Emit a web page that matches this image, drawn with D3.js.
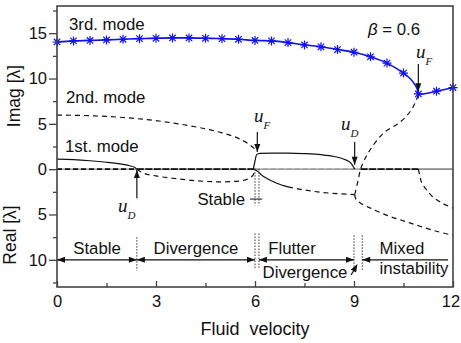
<!DOCTYPE html>
<html>
<head>
<meta charset="utf-8">
<script src="https://cdn.jsdelivr.net/npm/d3@7"></script>
<style>
  body { margin: 0; background: #fff; }
  svg text { font-family: "Liberation Sans", Arial, sans-serif; fill: #111; }
  .ital { font-family: "Liberation Serif", "Times New Roman", serif; font-style: italic; }
</style>
</head>
<body>
<svg id="chart" width="461" height="343"></svg>
<script>
// Imag part plotted upward, Real part plotted downward (stored as negative numbers)

// tick labels
var xTicks = [0, 3, 6, 9, 12];
var yTicks = [-10, -5, 0, 5, 10, 15];
var xMinor = [1.5, 4.5, 7.5, 10.5];
var yMinor = [-12.5, -7.5, -2.5, 2.5, 7.5, 12.5, 17.5];

// 3rd mode (blue, asterisks)
var mode3U = [0, 0.5, 1, 1.5, 2, 2.5, 3, 3.5, 4, 4.5, 5, 5.5, 6, 6.5, 7, 7.5, 8, 8.5, 9, 9.5, 10, 10.5, 10.95, 11.5, 12];
var mode3Imag = [14.03, 14.15, 14.2, 14.26, 14.33, 14.4, 14.44, 14.48, 14.48, 14.44, 14.4, 14.33, 14.2, 14.15, 13.96, 13.7, 13.5, 13.2, 12.9, 12.4, 11.7, 10.6, 8.3, 8.6, 9.0];
// extra points along the bend (line only)
var bendU = [10.7, 10.85, 10.92];
var bendImag = [10.0, 9.3, 8.8];

// 1st mode imag (solid)
var mode1U = [0, 0.5, 1, 1.5, 2, 2.2, 2.35, 2.42];
var mode1Imag = [1.1, 1.05, 0.93, 0.76, 0.52, 0.38, 0.2, 0];

// 2nd mode imag (dashed)
var mode2U = [0, 1, 2, 3, 4, 5, 5.5, 5.8, 6.07];
var mode2Imag = [5.96, 5.9, 5.7, 5.35, 4.8, 4.0, 3.4, 2.8, 2.0];

// divergence real part (dashed)
var divU = [2.42, 2.6, 3, 3.5, 4, 4.5, 5, 5.5, 5.8, 5.95, 6.0];
var divReal = [0, -0.4, -0.75, -1.0, -1.2, -1.35, -1.4, -1.32, -1.05, -0.6, 0];

// flutter imag (solid)
var flutU = [5.95, 6.0, 6.05, 6.15, 6.5, 7, 7.5, 8, 8.4, 8.7, 8.9, 9.02];
var flutImag = [0, 0.9, 1.6, 1.75, 1.78, 1.78, 1.72, 1.6, 1.4, 1.1, 0.7, 0];

// flutter real (solid part, then dashed part)
var flutRealU = [5.98, 6.1, 6.2, 6.35, 6.66, 7.0];
var flutReal = [0, -0.3, -0.66, -1.0, -1.55, -1.95];
var flutReal2U = [7.0, 7.5, 8, 8.5, 9.02];
var flutReal2 = [-1.95, -2.3, -2.55, -2.7, -2.8];

// branch from real back to imag after u = 9 (dashed)
var riseU = [9.02, 9.05, 9.12, 9.2, 9.3, 9.5, 9.9, 10.4, 10.75, 10.95];
var riseVal = [-2.8, -2.4, -1.3, 0, 0.9, 2.2, 4.0, 5.2, 6.6, 8.2];

// lower real branch after u = 9 (dashed)
var fallU = [9.02, 9.06, 9.2, 9.5, 10, 10.5, 11, 11.5, 12];
var fallReal = [-2.8, -3.3, -3.75, -4.3, -5.1, -5.7, -6.3, -6.85, -7.3];

// mixed instability real branch (dashed)
var mixU = [10.95, 11.0, 11.05, 11.2, 11.4, 11.7, 12];
var mixReal = [0, -0.8, -1.5, -2.3, -3.1, -3.8, -4.3];

// zero-line pieces
var zeroStart = [0, 2.42, 6.0, 9.2, 10.95];
var zeroEnd = [2.42, 6.0, 9.2, 10.95, 12];

// region boundaries on the bottom
var bounds = [2.42, 6.0, 6.12, 9.0, 9.25];

var svg = d3.select("#chart");
var x = d3.scaleLinear([0, 12], [57, 453]);
var y = d3.scaleLinear([-13, 18], [287, 6]);

function pts(us, vs) { return us.map(function (u, i) { return [u, vs[i]]; }); }
var line = d3.line().x(function (d) { return x(d[0]); }).y(function (d) { return y(d[1]); }).curve(d3.curveMonotoneX);
var lineC = d3.line().x(function (d) { return x(d[0]); }).y(function (d) { return y(d[1]); }).curve(d3.curveCatmullRom);

var ink = "#111";

// zero line
svg.append("line").attr("x1", x(0)).attr("x2", x(12)).attr("y1", y(0)).attr("y2", y(0))
  .attr("stroke", "#888").attr("stroke-width", 1.2);
zeroStart.forEach(function (s, i) {
  var st = [["#111", "5,3", 1.6], ["#111", "7,1.5", 1.6], ["#999", "5,3", 1.2], ["#111", "7,1.5", 1.8], ["#888", null, 1.2]][i];
  svg.append("line").attr("x1", x(s)).attr("x2", x(zeroEnd[i])).attr("y1", y(0)).attr("y2", y(0))
    .attr("stroke", st[0]).attr("stroke-width", st[2]).attr("stroke-dasharray", st[1]);
});

function curve(data, dashed, gen) {
  svg.append("path").datum(data).attr("d", (gen || line))
    .attr("fill", "none").attr("stroke", ink).attr("stroke-width", 1.2)
    .attr("stroke-dasharray", dashed ? "5,4" : null);
}
curve(pts(mode1U, mode1Imag), false);
curve(pts(mode2U, mode2Imag), true);
curve(pts(divU, divReal), true);
curve(pts(flutU, flutImag), false);
curve(pts(flutRealU, flutReal), false);
curve(pts(flutReal2U, flutReal2), true);
curve(pts(riseU, riseVal), true, lineC);
curve(pts(fallU, fallReal), true, lineC);
curve(pts(mixU, mixReal), true, lineC);

// 3rd mode blue
var m3line = pts(mode3U, mode3Imag).concat(pts(bendU, bendImag)).sort(function (a, b) { return a[0] - b[0]; });
svg.append("path").datum(m3line).attr("d", lineC)
  .attr("fill", "none").attr("stroke", "#1010f0").attr("stroke-width", 1.6);
svg.selectAll(".star").data(pts(mode3U, mode3Imag)).enter().append("path")
  .attr("class", "star")
  .attr("transform", function (d) { return "translate(" + x(d[0]) + "," + y(d[1]) + ")"; })
  .attr("d", "M-4.5,0L4.5,0M0,-4.5L0,4.5M-3.2,-3.2L3.2,3.2M-3.2,3.2L3.2,-3.2")
  .attr("stroke", "#1010f0").attr("stroke-width", 1.2);

// axes
var yAxis = d3.axisLeft(y).tickValues(yTicks).tickFormat(function (d) { return Math.abs(d); }).tickSize(8).tickPadding(2);
svg.append("g").attr("transform", "translate(57,0)").call(yAxis);
svg.append("g").attr("transform", "translate(57,0)")
  .call(d3.axisLeft(y).tickValues(yMinor).tickFormat("").tickSize(4));
var gx = svg.append("g").attr("transform", "translate(0,287)")
  .call(d3.axisBottom(x).tickValues(xTicks).tickSizeInner(-6).tickSizeOuter(0).tickPadding(8));
svg.append("g").attr("transform", "translate(0,287)")
  .call(d3.axisBottom(x).tickValues(xMinor).tickFormat("").tickSizeInner(-4).tickSizeOuter(0));
svg.selectAll(".domain").remove();
svg.selectAll(".tick line").attr("stroke", "#444").attr("stroke-width", 1.3);
svg.selectAll(".tick text").attr("font-size", 16.5).attr("fill", "#111")
  .style("font-family", "'Liberation Sans', Arial, sans-serif");
// keep the last x label inside the window
gx.selectAll(".tick text").filter(function (d) { return d === 12; }).attr("x", -2.5);

svg.append("rect").attr("x", 57).attr("y", 6).attr("width", 396).attr("height", 281)
  .attr("fill", "none").attr("stroke", "#444").attr("stroke-width", 1.6);

// axis titles
svg.append("text").attr("transform", "translate(20,96) rotate(-90)").attr("text-anchor", "middle")
  .attr("font-size", 17.5).text("Imag [λ]");
svg.append("text").attr("transform", "translate(16,235) rotate(-90)").attr("text-anchor", "middle")
  .attr("font-size", 17.5).text("Real [λ]");
svg.append("text").attr("x", 255).attr("y", 335).attr("text-anchor", "middle")
  .attr("font-size", 18).style("white-space", "pre").text("Fluid  velocity");

// mode labels
function label(tx, px, py, anchor, size) {
  svg.append("text").attr("x", px).attr("y", py).attr("text-anchor", anchor || "start")
    .attr("font-size", size || 16.8).text(tx);
}
label("3rd. mode", 69, 30);
label("2nd. mode", 66, 103);
label("1st. mode", 65, 152);
var beta = svg.append("text").attr("x", 368).attr("y", 35).attr("font-size", 16.8);
beta.append("tspan").attr("font-style", "italic").text("β");
beta.append("tspan").text(" = 0.6");

// arrow heads
function head(px, py, dir) {
  var s = dir === "up" ? "M0,0L-3,8L3,8Z" : dir === "down" ? "M0,0L-3,-8L3,-8Z" :
          dir === "left" ? "M0,0L8,-3L8,3Z" : "M0,0L-8,-3L-8,3Z";
  svg.append("path").attr("transform", "translate(" + px + "," + py + ")").attr("d", s).attr("fill", ink);
}
function vArrow(u, v0, v1) {
  svg.append("line").attr("x1", x(u)).attr("x2", x(u)).attr("y1", y(v0)).attr("y2", y(v1))
    .attr("stroke", ink).attr("stroke-width", 1.2);
  head(x(u), y(v1), v1 > v0 ? "up" : "down");
}
function uLabel(sub, px, py) {
  var t = svg.append("text").attr("x", px).attr("y", py).attr("class", "ital").attr("font-size", 19);
  t.append("tspan").text("u");
  t.append("tspan").attr("font-size", 11).attr("dy", 7).text(sub);
}
vArrow(2.42, -3.2, -0.1);
uLabel("D", 118, 212);
vArrow(6.07, 4.1, 1.9);
uLabel("F", 254, 122);
vArrow(9.02, 3.0, 0.5);
uLabel("D", 341, 130);
vArrow(10.95, 11.6, 8.6);
uLabel("F", 416, 58);

// dotted boundaries
function dotted(u, v0, v1) {
  svg.append("line").attr("x1", x(u)).attr("x2", x(u)).attr("y1", y(v0)).attr("y2", y(v1))
    .attr("stroke", "#333").attr("stroke-width", 1).attr("stroke-dasharray", "1.5,1.5");
}
dotted(bounds[0], -7.5, -11.2);
dotted(bounds[1], -7.1, -10.9);
dotted(bounds[2], -7.1, -10.9);
dotted(bounds[3], -7.3, -11.1);
dotted(bounds[4], -7.3, -11.1);
dotted(bounds[1], 0, -4.0);
dotted(bounds[2], 0, -4.0);
svg.append("line").attr("x1", x(5.85)).attr("x2", x(6.22)).attr("y1", y(-3.3)).attr("y2", y(-3.3))
  .attr("stroke", ink).attr("stroke-width", 1);
label("Stable", 245, 205, "end");

// region arrows along Real = 10
var yr = y(-10);
function hLine(u0, u1, left, right) {
  svg.append("line").attr("x1", x(u0)).attr("x2", x(u1)).attr("y1", yr).attr("y2", yr)
    .attr("stroke", ink).attr("stroke-width", 1.2);
  if (left) head(x(u0), yr, "left");
  if (right) head(x(u1), yr, "right");
}
hLine(0, bounds[0], true, true);
hLine(bounds[0], bounds[1], true, true);
hLine(bounds[2], bounds[3], true, true);
hLine(bounds[4], 11.85, true, false);

svg.append("line").attr("x1", 351).attr("x2", 356).attr("y1", 275).attr("y2", 267)
  .attr("stroke", ink).attr("stroke-width", 1.2);
svg.append("path").attr("transform", "translate(357.5,264) rotate(30)").attr("d", "M0,0L-3,8L3,8Z").attr("fill", ink);

label("Stable", 97, 254, "middle");
label("Divergence", 196, 254, "middle");
label("Flutter", 292, 254, "middle");
label("Divergence", 305, 278, "middle");
label("Mixed", 402, 254, "middle");
label("instability", 414, 274, "middle");
</script>
</body>
</html>
